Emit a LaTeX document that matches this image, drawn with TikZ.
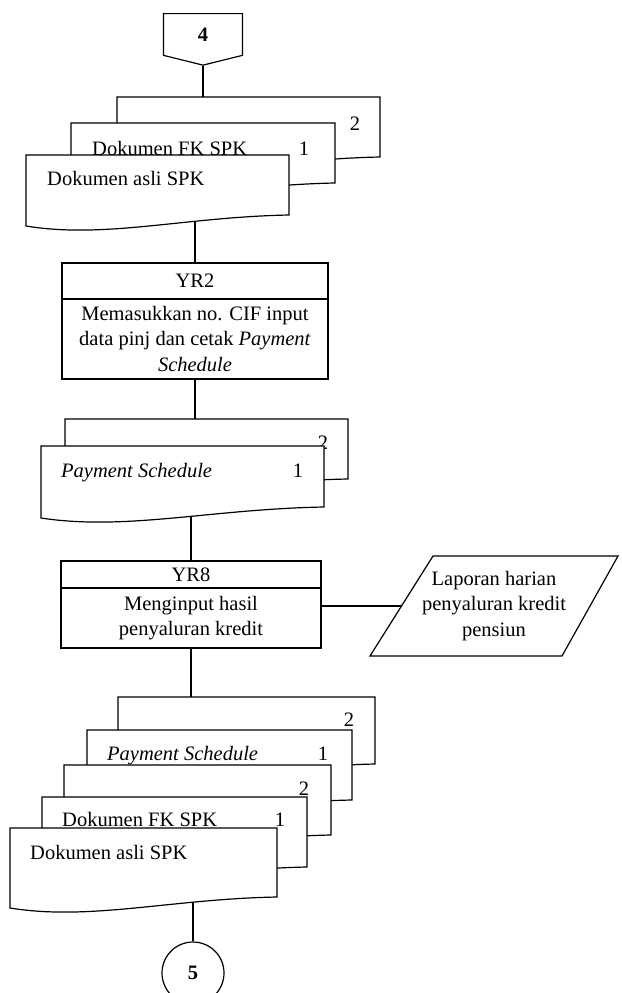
\documentclass[tikz,border=0pt]{standalone}
\usepackage{fontspec}
\setmainfont{Liberation Serif}
\usetikzlibrary{positioning,shapes.symbols,backgrounds}
\tikzset{ %
  ,every node/.style={font=\fontsize{20.5}{25.5}\selectfont}
  ,lines/.style={line width=1.2pt}
  ,docshape/.style={draw, line width=1.2pt, fill=white}
  ,docbox/.style={inner sep=0, draw=none}
  ,doctext/.style={anchor=base west, inner sep=0}
  ,docnum/.style={anchor=base, inner sep=0}
  ,proc/.style={draw, line width=1.2pt, fill=white, inner sep=2pt, outer sep=0, align=center}
  ,offpage/.style={draw, signal, signal to=south, signal pointer angle=152, minimum width=79, minimum height=43, inner sep=0, line width=1.2pt, fill=white}
  ,onpage/.style={draw, circle, minimum size=62, inner sep=0, line width=1.2pt, fill=white}
  ,laporan/.style={minimum width=185, minimum height=100, inner sep=0, outer sep=0, align=center}
}
% dokumen: name, left, top, width, height
\newcommand{\dokumen}[5]{%
  \draw[docshape] (#2,#3) -- ++(#4,0) -- ++(0,#5)
    .. controls +(-0.4*#4,2) and +(0.3*#4,13) .. ++(-#4,11) -- cycle;
  \node[docbox, anchor=north west, minimum width=#4, minimum height=#5] (#1) at (#2,#3) {};
}

\begin{document}
\begin{tikzpicture}[x=1pt,y=-1pt]
\useasboundingbox (0,0) rectangle (621,993);

\node[offpage, anchor=north] (c4) at (203,13) {\textbf{4}};

% dokumen SPK
\dokumen{spkb}{117}{97}{263}{60}
\node[docnum] (spkb2) at (355,130) {2};
\dokumen{spkfk}{71}{123}{264}{60}
\draw node[doctext] (spkfkt) at (92,155) {Dokumen FK SPK}
      node[docnum] (spkfk1) at (304,155) {1};
\dokumen{spka}{26}{155}{263}{60}
\node[doctext] (spkat) at (47,185) {Dokumen asli SPK};

% YR2
\node[proc, minimum width=266, minimum height=36] (yr2) at (195,281) {YR2};
\node[proc, minimum width=266, minimum height=80, below=0pt of yr2] (yr2b)
  {Memasukkan no. CIF input\\data pinj dan cetak \textit{Payment}\\\textit{Schedule}};

% payment schedule
\dokumen{psb}{65}{419}{283}{60}
\node[docnum] (psb2) at (323,449) {2};
\dokumen{psa}{41}{446}{283}{61}
\draw node[doctext] (psat) at (61,477) {\textit{Payment Schedule}}
      node[docnum] (psa1) at (298,477) {1};

% YR8
\node[proc, minimum width=260, minimum height=27] (yr8) at (191,574.5) {YR8};
\node[proc, minimum width=260, minimum height=60, below=0pt of yr8] (yr8b)
  {Menginput hasil\\penyaluran kredit};

% laporan (parallelogram)
\node[laporan] (lap) at (494,606) {Laporan harian\\penyaluran kredit\\pensiun};
\draw[lines] ([xshift=-31.5pt]lap.south west) -- ([xshift=31.5pt]lap.north west)
  -- ([xshift=31.5pt]lap.north east) -- ([xshift=-24.5pt]lap.south east) -- cycle;

% arsip
\dokumen{arpb}{118}{697}{257}{67}
\node[docnum] (arpb2) at (349,726) {2};
\dokumen{arpa}{87}{730}{265}{70}
\draw node[doctext] (arpat) at (107,760) {\textit{Payment Schedule}}
      node[docnum] (arpa1) at (323,760) {1};
\dokumen{arfb}{64}{765}{267}{70}
\node[docnum] (arfb2) at (304,795) {2};
\dokumen{arfa}{42}{797}{265}{70}
\draw node[doctext] (arfat) at (62,826) {Dokumen FK SPK}
      node[docnum] (arfa1) at (280,826) {1};
\dokumen{arsa}{10}{828}{267}{69}
\node[doctext] (arsat) at (30,859) {Dokumen asli SPK};

\node[onpage] (c5) at (193,973) {\textbf{5}};

\begin{scope}[on background layer]
\draw[lines] (c4.south) -- (c4.south |- spkb.north);
\draw[lines] (yr2.north |- spka.south) -- (yr2.north);
\draw[lines] (yr2b.south) -- (yr2b.south |- psb.north);
\draw[lines] (yr8.north |- psa.south) -- (yr8.north);
\draw[lines] (yr8b.south) -- (yr8b.south |- arpb.north);
\draw[lines] (lap.west -| yr8b.east) -- (lap.west);
\draw[lines] (c5.north |- arsa.south) -- (c5.north);
\end{scope}
\end{tikzpicture}
\end{document}
